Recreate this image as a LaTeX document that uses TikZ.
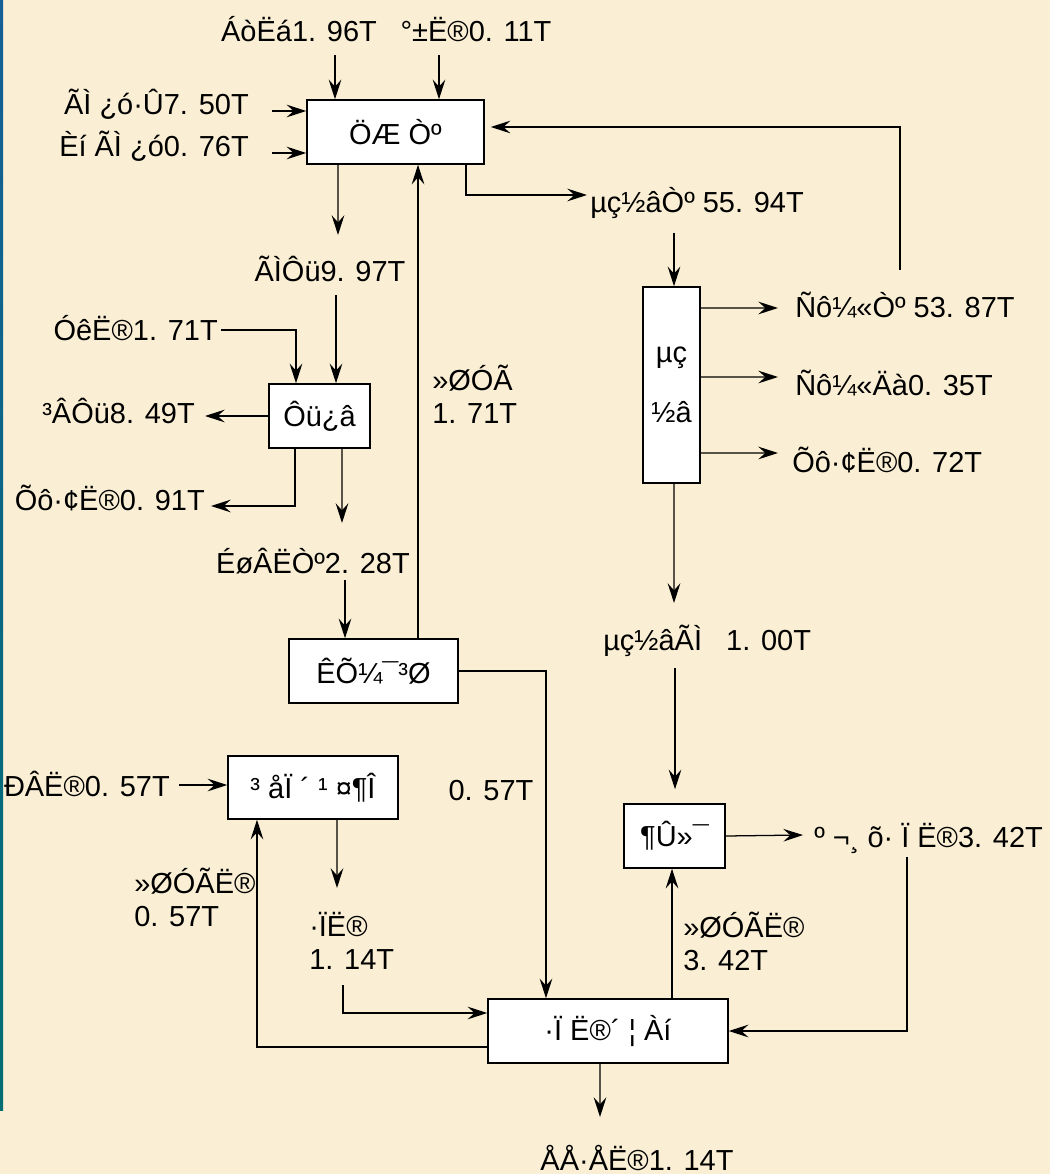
\documentclass[tikz,border=0pt]{standalone}
\usepackage{fontspec}
\setmainfont{Liberation Sans}
\usepackage{tikz}
\usetikzlibrary{arrows.meta,positioning}
\usepackage{xcolor}
\definecolor{parchment}{RGB}{250,239,212}
\definecolor{edgeblue}{RGB}{20,95,150}
\definecolor{edgeteal}{RGB}{0,110,115}

\begin{document}
\begin{tikzpicture}[x=0.025cm, y=-0.025cm,
    font=\fontsize{20.6pt}{23.5pt}\selectfont,
    flow/.style={line width=0.9pt, -{Stealth[length=14pt,width=9pt,inset=5pt]}},
    unit/.style={draw, line width=1pt, fill=white, inner sep=0pt},
    val/.style={inner sep=0pt}]

    % background
    \fill[parchment] (0,0) rectangle (1050,1174);
    \shade[top color=edgeblue, bottom color=edgeteal] (0,0) rectangle (3,1110);
    \useasboundingbox (0,0) rectangle (1050,1174);

    % process units
    \node[unit, minimum width=4.425cm, minimum height=1.6cm] (zhiye) at (395.5,132) {ÖÆ Òº};
    \node[unit, minimum width=2.525cm, minimum height=1.6cm] (zhaku) at (319.5,416) {Ôü¿â};
    \node[unit, minimum width=4.225cm, minimum height=1.6cm] (jihe) at (373.5,671) {ÊÕ¼¯³Ø};
    \node[unit, minimum width=4.25cm, minimum height=1.575cm] (chongxi) at (313,787.5) {³ åÏ ´ ¹ ¤¶Î};
    \node[unit, minimum width=6cm, minimum height=1.6cm] (feishui) at (608,1031) {·Ï Ë®´ ¦ Àí};
    \node[unit, minimum width=2.525cm, minimum height=1.6cm] (dunhua) at (674.5,836) {¶Û»¯};
    \node[unit, minimum width=1.425cm, minimum height=4.9cm, align=center] (dianjie) at (671.5,385) {µç\\[19.5pt]½â};

    % flow labels
    \node[val, anchor=base] (lsuan) at (299,42) {ÁòËá1. 96T};
    \node[val, anchor=base] (ashui) at (476,42) {°±Ë®0. 11T};
    \node[val, anchor=base east] (mkfen) at (249,115) {ÃÌ ¿ó·Û7. 50T};
    \node[val, anchor=base east] (rmeng) at (249,157) {Èí ÃÌ ¿ó0. 76T};
    \node[val, anchor=base] (mzha) at (330,282) {ÃÌÔü9. 97T};
    \node[val, anchor=base east] (yshui) at (218,340) {ÓêË®1. 71T};
    \node[val, anchor=base east] (czha) at (195,423) {³ÂÔü8. 49T};
    \node[val, anchor=base east] (zfa1) at (205,510) {Õô·¢Ë®0. 91T};
    \node[val, anchor=west, align=left] (hy1) at (432,394) {»ØÓÃ\\1. 71T};
    \node[val, anchor=base] (slv) at (313,573) {ÉøÂËÒº2. 28T};
    \node[val, anchor=base east] (xshui) at (170,796) {ÐÂË®0. 57T};
    \node[val, anchor=base] (byp) at (491,800) {0. 57T};
    \node[val, anchor=west, align=left] (hy2) at (134,897) {»ØÓÃË®\\0. 57T};
    \node[val, anchor=west, align=left] (fs1) at (309,941) {·ÏË®\\1. 14T};
    \node[val, anchor=west, align=left] (hy3) at (683,941) {»ØÓÃË®\\3. 42T};
    \node[val, anchor=base] (pfang) at (637,1170) {ÅÅ·ÅË®1. 14T};
    \node[val, anchor=base west] (hge) at (814,847) {º ¬¸ õ· Ï Ë®3. 42T};
    \node[val, anchor=base west] (djmeng) at (603,650) {µç½âÃÌ~~~1. 00T};
    \node[val, anchor=base west] (djye) at (590,213) {µç½âÒº 55. 94T};
    \node[val, anchor=base west] (yjye) at (795,318) {Ñô¼«Òº 53. 87T};
    \node[val, anchor=base west] (yjni) at (795,395) {Ñô¼«Äà0. 35T};
    \node[val, anchor=base west] (zfa2) at (792,472) {Õô·¢Ë®0. 72T};

    % free ends
    \coordinate (inLs) at (335,55);
    \coordinate (inAs) at (439,55);
    \coordinate (inMf) at (272,111);
    \coordinate (inRm) at (272,153);
    \coordinate (fbTop) at (900,270);
    \coordinate (toDj) at (587,195);
    \coordinate (toMz) at (338,235);
    \coordinate (frMz) at (336,295);
    \coordinate (frYs) at (221,330);
    \coordinate (toCz) at (205,412);
    \coordinate (toZf) at (211,506);
    \coordinate (toSl) at (342,523);
    \coordinate (frSl) at (345,580);
    \coordinate (frXs) at (179,785);
    \coordinate (toFs) at (337,888);
    \coordinate (frFs) at (343,985);
    \coordinate (toPf) at (600,1117);
    \coordinate (toHg) at (803,835);
    \coordinate (frHg) at (907,857);
    \coordinate (frDy) at (674,233);
    \coordinate (toYy) at (778,308);
    \coordinate (toYn) at (778,377);
    \coordinate (toZ2) at (778,453);
    \coordinate (toDm) at (674,603);
    \coordinate (frDm) at (675,668);

    % leaching
    \draw[flow] (inLs) -- (inLs |- zhiye.north);
    \draw[flow] (inAs) -- (inAs |- zhiye.north);
    \draw[flow] (inMf) -- (inMf -| zhiye.west);
    \draw[flow] (inRm) -- (inRm -| zhiye.west);
    \draw[flow, shorten >=0.15cm] (fbTop) |- ([yshift=0.125cm]zhiye.east);
    \draw[flow] ([xshift=1.7625cm]zhiye.south) |- (toDj);
    \draw[flow] ([xshift=-1.4375cm]zhiye.south) -- (toMz);

    % residue yard
    \draw[flow] (frMz) -- (frMz |- zhaku.north);
    \draw[flow] (frYs) -| ([xshift=-0.5875cm]zhaku.north);
    \draw[flow] (zhaku.west) -- (toCz |- zhaku.west);
    \draw[flow] ([xshift=-0.6125cm]zhaku.south) |- (toZf);
    \draw[flow] ([xshift=0.5625cm]zhaku.south) -- (toSl);

    % collecting pool
    \draw[flow] (frSl) -- (frSl |- jihe.north);
    \draw[flow] ([xshift=1.1125cm]jihe.north) -- ([xshift=1.1125cm]jihe.north |- zhiye.south);
    \draw[flow] (jihe.east) -| ([xshift=-1.55cm]feishui.north);

    % washing
    \draw[flow] (frXs) -- (frXs -| chongxi.west);
    \draw[flow] ([xshift=0.6cm]chongxi.south) -- (toFs);
    \draw[flow] (frFs) |- ([yshift=0.45cm]feishui.west);
    \draw[flow] ([yshift=-0.4cm]feishui.west) -| ([xshift=-1.4cm]chongxi.south);

    % waste water treatment
    \draw[flow] ([xshift=-0.2cm]feishui.south) -- (toPf);
    \draw[flow] ([xshift=1.6cm]feishui.north) -- ([xshift=1.6cm]feishui.north |- dunhua.south);
    \draw[flow] (dunhua.east) -- (toHg);
    \draw[flow] (frHg) |- (feishui.east);

    % electrolysis
    \draw[flow] (frDy) -- (frDy |- dianjie.north);
    \draw[flow] ([yshift=1.925cm]dianjie.east) -- (toYy);
    \draw[flow] ([yshift=0.2cm]dianjie.east) -- (toYn);
    \draw[flow] ([yshift=-1.7cm]dianjie.east) -- (toZ2);
    \draw[flow] ([xshift=0.0625cm]dianjie.south) -- (toDm);
    \draw[flow, shorten >=0.35cm] (frDm) -- (frDm |- dunhua.north);
\end{tikzpicture}
\end{document}
